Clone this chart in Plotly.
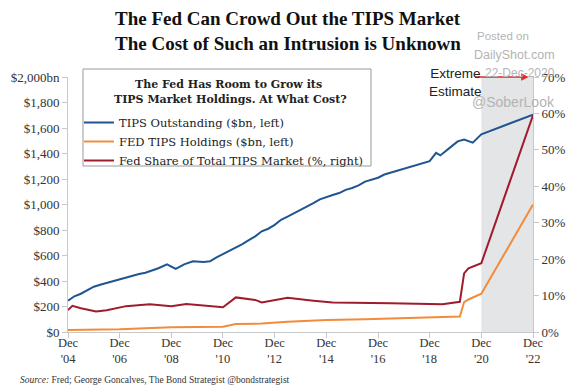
import plotly.graph_objects as go

# ---- data ----
blue_dates = ["2004-12-01","2005-03-01","2005-06-01","2005-09-01","2005-12-01","2006-03-01","2006-06-01","2006-09-01","2006-12-01",
              "2007-03-01","2007-06-01","2007-09-01","2007-12-01","2008-03-01","2008-06-01","2008-10-01","2009-02-01","2009-06-01",
              "2009-10-01","2010-03-01","2010-06-01","2010-09-01","2010-12-01","2011-03-01","2011-06-01","2011-09-01","2011-12-01",
              "2012-03-01","2012-06-01","2012-09-01","2012-12-01","2013-03-01","2013-06-01","2013-09-01","2013-12-01",
              "2014-03-01","2014-06-01","2014-09-01","2014-12-01","2015-03-01","2015-06-01","2015-09-01","2015-12-01",
              "2016-03-01","2016-06-01","2016-09-01","2016-12-01","2017-03-01","2017-06-01","2017-09-01","2017-12-01",
              "2018-03-01","2018-06-01","2018-09-01","2018-12-01","2019-03-01","2019-05-01","2019-09-01","2020-01-01",
              "2020-04-01","2020-08-01","2020-12-01","2022-12-01"]
tips_outstanding = [245, 280, 300, 330, 355, 370, 385, 400, 410,
                    425, 440, 455, 465, 480, 500, 530, 495, 530,
                    555, 550, 555, 585, 610, 635, 660, 690, 720,
                    750, 790, 810, 840, 880, 905, 930, 960,
                    985, 1010, 1040, 1060, 1075, 1090, 1115, 1130,
                    1150, 1180, 1195, 1210, 1235, 1250, 1265, 1280,
                    1295, 1310, 1330, 1340, 1405, 1385, 1440, 1495,
                    1510, 1485, 1550, 1705]

orange_dates = ["2004-12-01","2006-12-01","2008-12-01","2010-12-01","2011-06-01","2012-06-01","2013-06-01","2014-12-01",
                "2016-06-01","2018-01-01","2019-06-01","2020-02-01","2020-04-01","2020-06-01","2020-12-01","2022-12-01"]
fed_holdings = [15, 21, 37, 42, 63, 66, 81, 95, 100, 108, 115, 122, 235, 255, 300, 1000]

red_dates = ["2004-12-01","2005-02-01","2005-06-01","2006-01-01","2006-06-01","2007-03-01","2008-02-01","2008-12-01",
             "2009-07-01","2010-06-01","2010-12-01","2011-06-01","2012-03-01","2012-06-01","2013-06-01","2014-06-01",
             "2015-03-01","2017-06-01","2019-06-01","2020-02-01","2020-04-01","2020-06-01","2020-12-01","2022-12-01"]
fed_share = [6.0, 7.2, 6.5, 5.6, 6.0, 7.1, 7.6, 7.1, 7.7, 7.1, 6.8, 9.5, 8.8, 8.1, 9.4, 8.6,
             8.1, 7.9, 7.6, 8.3, 16.1, 17.5, 18.9, 59.5]

left_ticks = [0, 200, 400, 600, 800, 1000, 1200, 1400, 1600, 1800, 2000]
left_labels = ["$0", "$200", "$400", "$600", "$800", "$1,000", "$1,200", "$1,400", "$1,600", "$1,800", "$2,000bn"]
right_ticks = [0, 10, 20, 30, 40, 50, 60, 70]
right_labels = ["0%", "10%", "20%", "30%", "40%", "50%", "60%", "70%"]
x_ticks = ["2004-12-01","2006-12-01","2008-12-01","2010-12-01","2012-12-01","2014-12-01","2016-12-01","2018-12-01","2020-12-01","2022-12-01"]
x_labels = ["Dec<br>'04","Dec<br>'06","Dec<br>'08","Dec<br>'10","Dec<br>'12","Dec<br>'14","Dec<br>'16","Dec<br>'18","Dec<br>'20","Dec<br>'22"]

SERIF = "Liberation Serif, Times New Roman, serif"
SERIF_W = "DejaVu Serif, serif"
SANS = "Liberation Sans, Arial, sans-serif"

W, H = 581, 392
L, R, T, B = 68, 48, 77, 60
PW, PH = W - L - R, H - T - B


def px(x):
    return (x - L) / PW


def py(y):
    return (H - B - y) / PH


fig = go.Figure()
fig.add_trace(go.Scatter(x=blue_dates, y=tips_outstanding, mode="lines", name="TIPS Outstanding ($bn, left)",
                         line=dict(color="#1f5591", width=2)))
fig.add_trace(go.Scatter(x=orange_dates, y=fed_holdings, mode="lines", name="FED TIPS Holdings ($bn, left)",
                         line=dict(color="#f28c3a", width=2)))
fig.add_trace(go.Scatter(x=red_dates, y=fed_share, mode="lines", name="Fed Share of Total TIPS Market (%, right)",
                         line=dict(color="#a01c2c", width=2), yaxis="y2"))

fig.add_shape(type="rect", xref="x", yref="paper", x0="2020-12-01", x1="2022-12-01", y0=0, y1=1,
              fillcolor="#e4e5e7", line=dict(width=0), layer="below")
# legend box
fig.add_shape(type="rect", xref="paper", yref="paper", x0=px(83), x1=px(371), y0=py(69), y1=py(166),
              fillcolor="white", line=dict(color="#9a9a9a", width=1), layer="above")

axis_common = dict(showgrid=False, zeroline=False, showline=True, linecolor="#c8c8c8", linewidth=1,
                   ticks="outside", tickcolor="#c8c8c8", ticklen=5)

fig.update_layout(
    width=W, height=H,
    margin=dict(l=L, r=R, t=T, b=B),
    paper_bgcolor="white", plot_bgcolor="white",
    xaxis=dict(type="date", range=["2004-12-01", "2022-12-01"], tickvals=x_ticks, ticktext=x_labels,
               ticklabelstandoff=-6, tickfont=dict(family=SERIF, size=12.5, color="#333333"), **axis_common),
    yaxis=dict(range=[0, 2000], tickvals=left_ticks, ticktext=left_labels,
               tickfont=dict(family=SERIF, size=13, color="#333333"), **axis_common),
    yaxis2=dict(range=[0, 70], tickvals=right_ticks, ticktext=right_labels, overlaying="y", side="right",
                tickfont=dict(family=SERIF, size=13, color="#333333"), **axis_common),
    showlegend=True,
    legend=dict(x=px(79), y=py(108), xanchor="left", yanchor="top", bgcolor="rgba(0,0,0,0)", borderwidth=0,
                font=dict(family=SERIF_W, size=11.5, color="#222222"),
                tracegroupgap=0, itemwidth=30),
)

# title
fig.add_annotation(xref="paper", yref="paper", x=px(288), y=py(19), text="<b>The Fed Can Crowd Out the TIPS Market</b>",
                   showarrow=False, xanchor="center", yanchor="middle", font=dict(family=SERIF, size=19, color="#111111"))
fig.add_annotation(xref="paper", yref="paper", x=px(288), y=py(43), text="<b>The Cost of Such an Intrusion is Unknown</b>",
                   showarrow=False, xanchor="center", yanchor="middle", font=dict(family=SERIF, size=19, color="#111111"))
# legend heading
fig.add_annotation(xref="paper", yref="paper", x=px(228), y=py(84), text="<b>The Fed Has Room to Grow its</b>",
                   showarrow=False, xanchor="center", yanchor="middle", font=dict(family=SERIF_W, size=11, color="#222222"))
fig.add_annotation(xref="paper", yref="paper", x=px(230), y=py(99), text="<b>TIPS Market Holdings. At What Cost?</b>",
                   showarrow=False, xanchor="center", yanchor="middle", font=dict(family=SERIF_W, size=11, color="#222222"))

fig.add_annotation(x="2022-10-01", y=70, xref="x", yref="y2", ax=-55, ay=0, text="",
                   showarrow=True, arrowhead=2, arrowsize=1, arrowwidth=1.5, arrowcolor="#e02a2e")
fig.add_annotation(xref="paper", yref="paper", x=px(455), y=py(82), text="Extreme<br>Estimate",
                   showarrow=False, xanchor="center", yanchor="middle",
                   font=dict(family=SANS, size=13.5, color="#222222"))
# watermark
wm = "#b4b4b4"
fig.add_annotation(xref="paper", yref="paper", x=px(531), y=py(36), text="Posted on",
                   showarrow=False, xanchor="right", yanchor="middle", font=dict(family=SANS, size=11.5, color=wm))
fig.add_annotation(xref="paper", yref="paper", x=px(557), y=py(55), text="DailyShot.com",
                   showarrow=False, xanchor="right", yanchor="middle", font=dict(family=SANS, size=12.5, color=wm))
fig.add_annotation(xref="paper", yref="paper", x=px(557), y=py(73), text="22-Dec-2020",
                   showarrow=False, xanchor="right", yanchor="middle", font=dict(family=SANS, size=12, color=wm))
fig.add_annotation(xref="paper", yref="paper", x=px(557), y=py(102), text="@SoberLook",
                   showarrow=False, xanchor="right", yanchor="middle", font=dict(family=SANS, size=14, color=wm))
fig.add_annotation(xref="paper", yref="paper", x=px(18), y=py(380),
                   text="<i>Source:</i> Fred; George Goncalves, The Bond Strategist @bondstrategist",
                   showarrow=False, xanchor="left", yanchor="middle", font=dict(family=SERIF, size=9.5, color="#333333"))

fig.write_html("out.html", config={"displayModeBar": False},
               post_script="document.body.style.margin='0';document.body.style.overflow='hidden';")
